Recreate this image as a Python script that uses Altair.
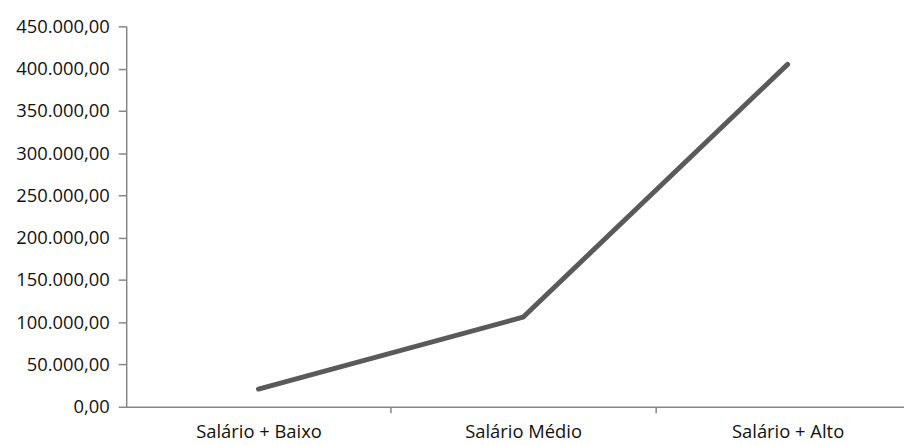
import altair as alt
import pandas as pd

categories = ["Salário + Baixo", "Salário Médio", "Salário + Alto"]
values = [21000, 106000, 405000]
y_ticks = [0, 50000, 100000, 150000, 200000, 250000, 300000, 350000, 400000, 450000]

df = pd.DataFrame({"cat": categories, "val": values})

cat_js = "[" + ",".join("'" + c + "'" for c in categories) + "]"
FONT = "Open Sans"
FS = 18.5

base = alt.Chart(df).transform_calculate(
    idx="indexof(" + cat_js + ", datum.cat) + 0.5"
)

xscale = alt.Scale(domain=[0, 2.94], nice=False, zero=False)

line = base.mark_line(color="#5a5a5a", strokeWidth=5, strokeCap="round", strokeJoin="round").encode(
    x=alt.X("idx:Q", scale=xscale, axis=alt.Axis(
        orient="bottom", values=[1, 2], labels=False, tickSize=6, title=None,
        domainColor="#868686", tickColor="#868686", domainWidth=1.5, tickWidth=1.5, grid=False)),
    y=alt.Y("val:Q", scale=alt.Scale(domain=[0, 450000], nice=False), axis=alt.Axis(
        values=y_ticks, format=",.2f", title=None, grid=False, tickSize=8,
        domainColor="#868686", tickColor="#868686", domainWidth=1.5, tickWidth=1.5,
        labelFont=FONT, labelFontSize=FS, labelColor="#111111", labelPadding=9)),
)

labels = base.mark_point(opacity=0).encode(
    x=alt.X("idx:Q", scale=xscale, axis=alt.Axis(
        orient="bottom", values=[0.5, 1.5, 2.5], ticks=False, domain=False, title=None, grid=False,
        labelExpr=cat_js + "[floor(datum.value)]", labelFont=FONT, labelFontSize=FS,
        labelColor="#111111", labelPadding=16)),
)

chart = alt.layer(line, labels).resolve_axis(x="independent").properties(
    width=783, height=383,
    autosize=alt.AutoSizeParams(type="none"),
    padding={"left": 119, "top": 17, "right": 0, "bottom": 36},
).configure(
    view=alt.ViewConfig(stroke=None),
    locale=alt.Locale(number=alt.NumberLocale(decimal=",", thousands=".", grouping=[3], currency=["R$", ""]))
)

chart.save("out.html", embed_options={"renderer": "svg", "actions": False})
